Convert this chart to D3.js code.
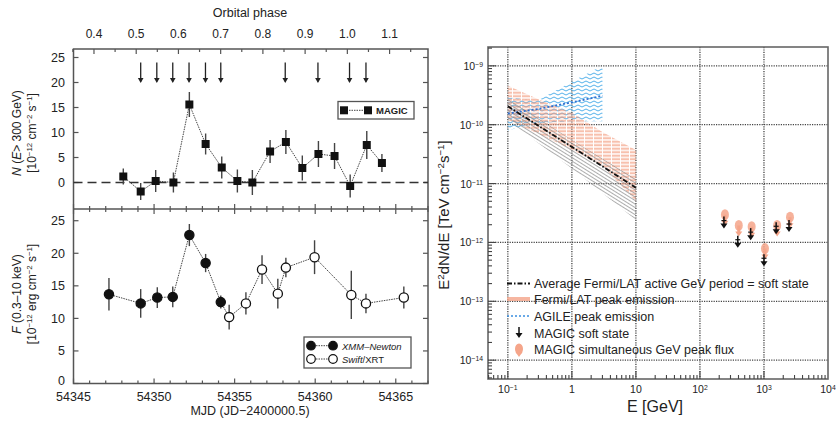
<!DOCTYPE html>
<html>
<head>
<meta charset="utf-8">
<script src="https://cdn.jsdelivr.net/npm/d3@7"></script>
<style>
  body { margin: 0; background: #fff; }
  svg { display: block; font-family: "Liberation Sans", Arial, sans-serif; }
</style>
</head>
<body>
<svg id="chart" width="836" height="421"></svg>
<script>
// ---- left panel data (MJD, flux, error) ----
var magicMJD  = [54348.09, 54349.17, 54350.1, 54351.2, 54352.19, 54353.2, 54354.2, 54355.17, 54356.1, 54357.2, 54358.18, 54359.2, 54360.2, 54361.2, 54362.17, 54363.2, 54364.14];
var magicFlux = [1.2, -1.8, 0.3, 0.0, 15.6, 7.7, 3.0, 0.3, 0.0, 6.2, 8.1, 2.9, 5.7, 5.3, -0.7, 7.5, 3.9];
var magicErr  = [1.6, 1.7, 2.2, 2.0, 2.5, 2.1, 2.2, 2.3, 2.5, 2.3, 2.4, 2.5, 2.6, 2.6, 2.3, 2.8, 1.8];

var xmmMJD  = [54347.2, 54349.17, 54350.2, 54351.16, 54352.19, 54353.2, 54354.14];
var xmmFlux = [13.7, 12.3, 13.2, 13.3, 22.8, 18.5, 12.5];
var xmmErr  = [2.5, 2.2, 1.6, 1.6, 1.7, 1.4, 1.0];

var swiftMJD  = [54354.66, 54355.7, 54356.7, 54357.68, 54358.18, 54359.96, 54362.24, 54363.15, 54365.5];
var swiftFlux = [10.2, 12.3, 17.5, 13.8, 17.8, 19.4, 13.6, 12.3, 13.2];
var swiftErr  = [1.9, 1.7, 2.2, 2.3, 1.5, 2.6, 3.7, 1.5, 1.7];

var arrowMJD = [54349.17, 54350.17, 54351.16, 54352.17, 54353.19, 54354.14, 54358.14, 54360.17, 54362.13, 54363.15];

var mjdTicks   = [54345, 54350, 54355, 54360, 54365];
var phaseTicks = [0.4, 0.5, 0.6, 0.7, 0.8, 0.9, 1.0, 1.1];
var topYTicks  = [0, 5, 10, 15, 20, 25];
var botYTicks  = [0, 5, 10, 15, 20, 25];

// ---- right panel data (E in GeV, E^2 dN/dE) ----
var avgE  = [0.1, 1, 10];
var avgF  = [2.05e-10, 4.2e-11, 8.5e-12];
var avgLo = [1.2e-10, 1.8e-11, 2.4e-12];
var avgHi = [2.8e-10, 5.5e-11, 1.2e-11];

var peakE  = [0.1, 0.3, 1, 3, 10];
var peakLo = [1.2e-10, 7e-11, 3.8e-11, 2e-11, 5e-12];
var peakHi = [4.6e-10, 2.7e-10, 1.6e-10, 7.5e-11, 3.7e-11];

var agileE  = [0.1, 0.3, 1, 3];
var agileF  = [1.55e-10, 1.85e-10, 2.4e-10, 3.1e-10];
var agileLo = [8e-11, 1.07e-10, 1.15e-10, 1.15e-10];
var agileHi = [2.9e-10, 2.6e-10, 5.4e-10, 1e-9];

var magicE      = [237, 390, 620, 1000, 1550, 2460];
var magicSoftUL = [2.75e-12, 1.3e-12, 1.75e-12, 6.3e-13, 2.2e-12, 2.4e-12];
var magicPeakUL = [3.2e-12, 2.1e-12, 2.0e-12, 8.5e-13, 2.1e-12, 2.9e-12];

var eTicks = [[0.1, "10", "-1"], [1, "1", ""], [10, "10", ""], [100, "10", "2"], [1000, "10", "3"], [10000, "10", "4"]];
var fTicks = [1e-9, 1e-10, 1e-11, 1e-12, 1e-13, 1e-14];

var legendItems = ["Average Fermi/LAT active GeV period = soft state", "Fermi/LAT peak emission",
                   "AGILE peak emission", "MAGIC soft state", "MAGIC simultaneous GeV peak flux"];

var salmon = "#f5a58a";
var ink = "#222";
var frame = "#555";

var svg = d3.select("#chart");

// helper: text with superscript parts
function richText(sel, parts) {
  parts.forEach(function(p) {
    var t = sel.append("tspan").text(p.t);
    if (p.sup) t.attr("baseline-shift", "super").attr("font-size", "0.65em");
    if (p.it) t.attr("font-style", "italic");
  });
  return sel;
}

// ================= LEFT PANEL =================
var x = d3.scaleLinear().domain([54345, 54367]).range([73.5, 428]);
var xPhase = d3.scaleLinear().domain([0.3515, 1.191]).range([73.5, 428]);
var yTop = d3.scaleLinear().domain([-5.3, 26.7]).range([209, 49]);
var yBot = d3.scaleLinear().domain([0, 26.8]).range([383.5, 209]);

var L = svg.append("g");

// frame
L.append("rect").attr("x", 73.5).attr("y", 49).attr("width", 428 - 73.5).attr("height", 383.5 - 49)
  .attr("fill", "none").attr("stroke", frame).attr("stroke-width", 1.5);
L.append("line").attr("x1", 73.5).attr("x2", 428).attr("y1", 209).attr("y2", 209)
  .attr("stroke", frame).attr("stroke-width", 1.5);

// day ticks
var days = d3.range(54345, 54368);
days.forEach(function(d) {
  var major = (d % 5 === 0);
  var len = major ? 5 : 3;
  L.append("line").attr("x1", x(d)).attr("x2", x(d)).attr("y1", 209 - len).attr("y2", 209 + len)
    .attr("stroke", frame).attr("stroke-width", 1.2);
  L.append("line").attr("x1", x(d)).attr("x2", x(d)).attr("y1", 383.5).attr("y2", 383.5 - len)
    .attr("stroke", frame).attr("stroke-width", 1.2);
});
mjdTicks.forEach(function(d) {
  L.append("text").attr("x", x(d)).attr("y", 401).attr("text-anchor", "middle")
    .attr("font-size", 12.5).attr("fill", ink).text(d);
});
L.append("text").attr("x", 250).attr("y", 415).attr("text-anchor", "middle")
  .attr("font-size", 12.5).attr("fill", ink).text("MJD (JD\u22122400000.5)");

// phase ticks on top
d3.range(0.35, 1.2, 0.05).forEach(function(p) {
  var major = Math.abs(p * 10 - Math.round(p * 10)) < 1e-6;
  L.append("line").attr("x1", xPhase(p)).attr("x2", xPhase(p)).attr("y1", 49).attr("y2", 49 + (major ? 5 : 3))
    .attr("stroke", frame).attr("stroke-width", 1.2);
});
phaseTicks.forEach(function(p) {
  L.append("text").attr("x", xPhase(p)).attr("y", 38).attr("text-anchor", "middle")
    .attr("font-size", 12).attr("fill", ink).text(p.toFixed(1));
});
L.append("text").attr("x", 250).attr("y", 17).attr("text-anchor", "middle")
  .attr("font-size", 12.5).attr("fill", ink).text("Orbital phase");

// y ticks
function yTicks(scale, vals, lift) {
  vals.forEach(function(v) {
    L.append("line").attr("x1", 73.5).attr("x2", 78.5).attr("y1", scale(v)).attr("y2", scale(v))
      .attr("stroke", frame).attr("stroke-width", 1.2);
    L.append("line").attr("x1", 428).attr("x2", 423).attr("y1", scale(v)).attr("y2", scale(v))
      .attr("stroke", frame).attr("stroke-width", 1.2);
    var dy = (lift && v === 0) ? 1 : 4.5;
    L.append("text").attr("x", 65).attr("y", scale(v) + dy).attr("text-anchor", "end")
      .attr("font-size", 12.5).attr("fill", ink).text(v);
  });
}
yTicks(yTop, topYTicks, false);
yTicks(yBot, botYTicks, true);

// y axis titles
var t1 = L.append("text").attr("transform", "translate(21,133) rotate(-90)").attr("text-anchor", "middle")
  .attr("font-size", 12).attr("fill", ink);
richText(t1, [{t: "N", it: true}, {t: " ("}, {t: "E", it: true}, {t: "> 300 GeV)"}]);
var t2 = L.append("text").attr("transform", "translate(36,133) rotate(-90)").attr("text-anchor", "middle")
  .attr("font-size", 12).attr("fill", ink);
richText(t2, [{t: "[10"}, {t: "\u221212", sup: true}, {t: " cm"}, {t: "\u22122", sup: true}, {t: " s"}, {t: "\u22121", sup: true}, {t: "]"}]);
var t3 = L.append("text").attr("transform", "translate(21,294) rotate(-90)").attr("text-anchor", "middle")
  .attr("font-size", 12).attr("fill", ink);
richText(t3, [{t: "F", it: true}, {t: " (0.3\u201310 keV)"}]);
var t4 = L.append("text").attr("transform", "translate(36,294) rotate(-90)").attr("text-anchor", "middle")
  .attr("font-size", 12).attr("fill", ink);
richText(t4, [{t: "[10"}, {t: "\u221212", sup: true}, {t: " erg cm"}, {t: "\u22122", sup: true}, {t: " s"}, {t: "\u22121", sup: true}, {t: "]"}]);

// zero line
L.append("line").attr("x1", 73.5).attr("x2", 428).attr("y1", yTop(0)).attr("y2", yTop(0))
  .attr("stroke", "#333").attr("stroke-width", 1.3).attr("stroke-dasharray", "9,5");

// arrows (MAGIC observation nights)
arrowMJD.forEach(function(d) {
  L.append("line").attr("x1", x(d)).attr("x2", x(d)).attr("y1", yTop(24)).attr("y2", yTop(20.2))
    .attr("stroke", "#222").attr("stroke-width", 1.3);
  L.append("path").attr("d", d3.line()([[x(d) - 2.8, yTop(20.9)], [x(d) + 2.8, yTop(20.9)], [x(d), yTop(19.9)]]) + "Z")
    .attr("fill", "#222");
});

// MAGIC light curve
var magicPts = magicMJD.map(function(d, i) { return [d, magicFlux[i], magicErr[i]]; });
L.append("path").attr("d", d3.line().x(function(p) { return x(p[0]); }).y(function(p) { return yTop(p[1]); })(magicPts))
  .attr("fill", "none").attr("stroke", "#444").attr("stroke-width", 1).attr("stroke-dasharray", "1.5,1");
L.selectAll(".mErr").data(magicPts).enter().append("line")
  .attr("x1", function(p) { return x(p[0]); }).attr("x2", function(p) { return x(p[0]); })
  .attr("y1", function(p) { return yTop(p[1] - p[2]); }).attr("y2", function(p) { return yTop(p[1] + p[2]); })
  .attr("stroke", "#444").attr("stroke-width", 1.4);
L.selectAll(".mPt").data(magicPts).enter().append("rect")
  .attr("x", function(p) { return x(p[0]) - 4; }).attr("y", function(p) { return yTop(p[1]) - 4; })
  .attr("width", 8).attr("height", 8).attr("fill", "#111");

// X-ray light curve
var xmmPts = xmmMJD.map(function(d, i) { return [d, xmmFlux[i], xmmErr[i], 1]; });
var swiftPts = swiftMJD.map(function(d, i) { return [d, swiftFlux[i], swiftErr[i], 0]; });
var xrayPts = xmmPts.concat(swiftPts);
L.append("path").attr("d", d3.line().x(function(p) { return x(p[0]); }).y(function(p) { return yBot(p[1]); })(xrayPts))
  .attr("fill", "none").attr("stroke", "#444").attr("stroke-width", 1).attr("stroke-dasharray", "1.5,1");
L.selectAll(".xErr").data(xrayPts).enter().append("line")
  .attr("x1", function(p) { return x(p[0]); }).attr("x2", function(p) { return x(p[0]); })
  .attr("y1", function(p) { return yBot(p[1] - p[2]); }).attr("y2", function(p) { return yBot(p[1] + p[2]); })
  .attr("stroke", "#444").attr("stroke-width", 1.4);
L.selectAll(".xPt").data(xrayPts).enter().append("circle")
  .attr("cx", function(p) { return x(p[0]); }).attr("cy", function(p) { return yBot(p[1]); })
  .attr("r", 4.6).attr("fill", function(p) { return p[3] ? "#111" : "#fff"; })
  .attr("stroke", "#111").attr("stroke-width", 1.3);

// legends left
L.append("rect").attr("x", 338).attr("y", 101.5).attr("width", 76).attr("height", 17.5)
  .attr("fill", "#fff").attr("stroke", frame).attr("stroke-width", 1.3);
L.append("line").attr("x1", 344).attr("x2", 368).attr("y1", 110.3).attr("y2", 110.3)
  .attr("stroke", "#444").attr("stroke-dasharray", "1.5,1");
[344, 368].forEach(function(cx) {
  L.append("rect").attr("x", cx - 4).attr("y", 106.3).attr("width", 8).attr("height", 8).attr("fill", "#111");
});
L.append("text").attr("x", 376).attr("y", 114).attr("font-size", 9.5).attr("font-weight", "bold")
  .attr("fill", ink).text("MAGIC");

L.append("rect").attr("x", 304).attr("y", 337).attr("width", 107).attr("height", 31)
  .attr("fill", "#fff").attr("stroke", frame).attr("stroke-width", 1.3);
[[345.7, "#111"], [359, "#fff"]].forEach(function(r) {
  L.append("line").attr("x1", 311).attr("x2", 333).attr("y1", r[0]).attr("y2", r[0])
    .attr("stroke", "#444").attr("stroke-dasharray", "1.5,1");
  [311, 333].forEach(function(cx) {
    L.append("circle").attr("cx", cx).attr("cy", r[0]).attr("r", 4.3).attr("fill", r[1])
      .attr("stroke", "#111").attr("stroke-width", 1.2);
  });
});
L.append("text").attr("x", 342).attr("y", 349.5).attr("font-size", 9.5).attr("font-style", "italic")
  .attr("fill", ink).text("XMM\u2013Newton");
richText(L.append("text").attr("x", 342).attr("y", 363).attr("font-size", 9.5).attr("fill", ink),
  [{t: "Swift", it: true}, {t: "/XRT"}]);

// ================= RIGHT PANEL =================
var xE = d3.scaleLog().domain([Math.pow(10, -1.31), 1e4]).range([488, 828]);
var yF = d3.scaleLog().domain([Math.pow(10, -14.32), Math.pow(10, -8.68)]).range([379, 47]);

var R = svg.append("g");
var defs = svg.append("defs");

var pGray = defs.append("pattern").attr("id", "grayHatch").attr("patternUnits", "userSpaceOnUse")
  .attr("width", 4).attr("height", 3).attr("patternTransform", "rotate(32)");
pGray.append("line").attr("x1", 0).attr("x2", 4).attr("y1", 1.5).attr("y2", 1.5)
  .attr("stroke", "#8a8a8a").attr("stroke-width", 0.7);

var pSal = defs.append("pattern").attr("id", "salHatch").attr("patternUnits", "userSpaceOnUse")
  .attr("width", 9).attr("height", 3.5);
pSal.append("line").attr("x1", 0).attr("x2", 8).attr("y1", 1.7).attr("y2", 1.7)
  .attr("stroke", "#f29676").attr("stroke-width", 2.2).attr("opacity", 0.6);

var pBlue = defs.append("pattern").attr("id", "blueWave").attr("patternUnits", "userSpaceOnUse")
  .attr("width", 8).attr("height", 4);
pBlue.append("path").attr("d", "M0,2 Q2,0 4,2 T8,2").attr("fill", "none")
  .attr("stroke", "#3ea6e6").attr("stroke-width", 0.9);

// grid
[0.1, 1, 10, 100, 1000].forEach(function(e) {
  R.append("line").attr("x1", xE(e)).attr("x2", xE(e)).attr("y1", 47).attr("y2", 379)
    .attr("stroke", "#444").attr("stroke-width", 1.3).attr("stroke-dasharray", "1.2,1.2");
});
fTicks.forEach(function(f) {
  R.append("line").attr("x1", 488).attr("x2", 828).attr("y1", yF(f)).attr("y2", yF(f))
    .attr("stroke", "#444").attr("stroke-width", 1.3).attr("stroke-dasharray", "1.2,1.2");
});

// bands
function band(E, lo, hi) {
  var pts = E.map(function(e, i) { return [e, lo[i], hi[i]]; });
  return d3.area().x(function(p) { return xE(p[0]); })
    .y0(function(p) { return yF(p[1]); }).y1(function(p) { return yF(p[2]); })(pts);
}
R.append("path").attr("d", band(agileE, agileLo, agileHi)).attr("fill", "url(#blueWave)");
R.append("path").attr("d", band(peakE, peakLo, peakHi)).attr("fill", "url(#salHatch)");
R.append("path").attr("d", band(avgE, avgLo, avgHi)).attr("fill", "url(#grayHatch)");

function curve(E, F) {
  return d3.line().x(function(p) { return xE(p[0]); }).y(function(p) { return yF(p[1]); })(
    E.map(function(e, i) { return [e, F[i]]; }));
}
R.append("path").attr("d", curve(agileE, agileF)).attr("fill", "none")
  .attr("stroke", "#2f6fd0").attr("stroke-width", 1.8).attr("stroke-dasharray", "2,2");
R.append("path").attr("d", curve(avgE, avgF)).attr("fill", "none")
  .attr("stroke", "#111").attr("stroke-width", 1.8).attr("stroke-dasharray", "5,2,1.5,2");

// MAGIC upper limits
function ulArrow(g, cx, cy, color, w, len) {
  g.append("line").attr("x1", cx).attr("x2", cx).attr("y1", cy).attr("y2", cy + len - 3)
    .attr("stroke", color).attr("stroke-width", w);
  g.append("path").attr("d", d3.line()([[cx - 3.5, cy + len - 5], [cx + 3.5, cy + len - 5], [cx, cy + len]]) + "Z")
    .attr("fill", color);
}
magicE.forEach(function(e, i) {
  R.append("ellipse").attr("cx", xE(e) + 1).attr("cy", yF(magicPeakUL[i]) + 2).attr("rx", 4).attr("ry", 5.5)
    .attr("fill", salmon).attr("opacity", 0.85);
  ulArrow(R, xE(e) + 1, yF(magicPeakUL[i]) + 2, salmon, 3, 11);
});
magicE.forEach(function(e, i) {
  ulArrow(R, xE(e), yF(magicSoftUL[i]), "#111", 1.5, 12);
  R.append("line").attr("x1", xE(e) - 2.5).attr("x2", xE(e) + 2.5)
    .attr("y1", yF(magicSoftUL[i]) + 4).attr("y2", yF(magicSoftUL[i]) + 4)
    .attr("stroke", "#111").attr("stroke-width", 1.2);
});

// frame
R.append("rect").attr("x", 488).attr("y", 47).attr("width", 340).attr("height", 332)
  .attr("fill", "none").attr("stroke", "#666").attr("stroke-width", 1.6);

// x ticks (major + minor)
d3.range(-2, 4).forEach(function(dec) {
  d3.range(1, 10).forEach(function(m) {
    var e = m * Math.pow(10, dec);
    if (e < xE.domain()[0] || e > 1e4) return;
    var len = m === 1 ? 8 : 4;
    R.append("line").attr("x1", xE(e)).attr("x2", xE(e)).attr("y1", 379).attr("y2", 379 - len)
      .attr("stroke", "#444").attr("stroke-width", 1.1);
  });
});
// y ticks (major + minor)
d3.range(-15, -8).forEach(function(dec) {
  d3.range(1, 10).forEach(function(m) {
    var f = m * Math.pow(10, dec);
    if (f < yF.domain()[0] || f > yF.domain()[1]) return;
    var len = m === 1 ? 8 : 4;
    R.append("line").attr("x1", 488).attr("x2", 488 + len).attr("y1", yF(f)).attr("y2", yF(f))
      .attr("stroke", "#444").attr("stroke-width", 1.1);
  });
});

eTicks.forEach(function(t) {
  var tx = R.append("text").attr("x", xE(t[0])).attr("y", 393).attr("text-anchor", "middle")
    .attr("font-size", 10.5).attr("fill", ink);
  var parts = [{t: t[1]}];
  if (t[2]) parts.push({t: t[2].replace("-", "\u2212"), sup: true});
  richText(tx, parts);
});
fTicks.forEach(function(f) {
  var tx = R.append("text").attr("x", 483).attr("y", yF(f) + 4).attr("text-anchor", "end")
    .attr("font-size", 10.5).attr("fill", ink);
  richText(tx, [{t: "10"}, {t: "\u2212" + Math.round(-Math.log10(f)), sup: true}]);
});

R.append("text").attr("x", 655).attr("y", 412).attr("text-anchor", "middle")
  .attr("font-size", 16).attr("fill", ink).text("E [GeV]");
var yl = R.append("text").attr("transform", "translate(449,215) rotate(-90)").attr("text-anchor", "middle")
  .attr("font-size", 15).attr("fill", ink);
richText(yl, [{t: "E"}, {t: "2", sup: true}, {t: "dN/dE [TeV cm"}, {t: "\u22122", sup: true}, {t: "s"}, {t: "\u22121", sup: true}, {t: "]"}]);

// legend right
var legY = [283.5, 299, 316, 333, 349];
legY.forEach(function(ly, i) {
  R.append("text").attr("x", 534).attr("y", ly + 4.5).attr("font-size", 12.5).attr("fill", ink).text(legendItems[i]);
});
R.append("line").attr("x1", 507).attr("x2", 530).attr("y1", legY[0]).attr("y2", legY[0])
  .attr("stroke", "#111").attr("stroke-width", 1.8).attr("stroke-dasharray", "5,2,1.5,2");
R.append("line").attr("x1", 507).attr("x2", 530).attr("y1", legY[1]).attr("y2", legY[1])
  .attr("stroke", salmon).attr("stroke-width", 4).attr("opacity", 0.8);
R.append("line").attr("x1", 507).attr("x2", 530).attr("y1", legY[2]).attr("y2", legY[2])
  .attr("stroke", "#3a8ee0").attr("stroke-width", 1.6).attr("stroke-dasharray", "2,2");
ulArrow(R, 519, legY[3] - 6, "#111", 1.5, 11);
R.append("ellipse").attr("cx", 519).attr("cy", legY[4]).attr("rx", 4).attr("ry", 5.5).attr("fill", salmon);
ulArrow(R, 519, legY[4] - 3, salmon, 3, 11);
</script>
</body>
</html>
